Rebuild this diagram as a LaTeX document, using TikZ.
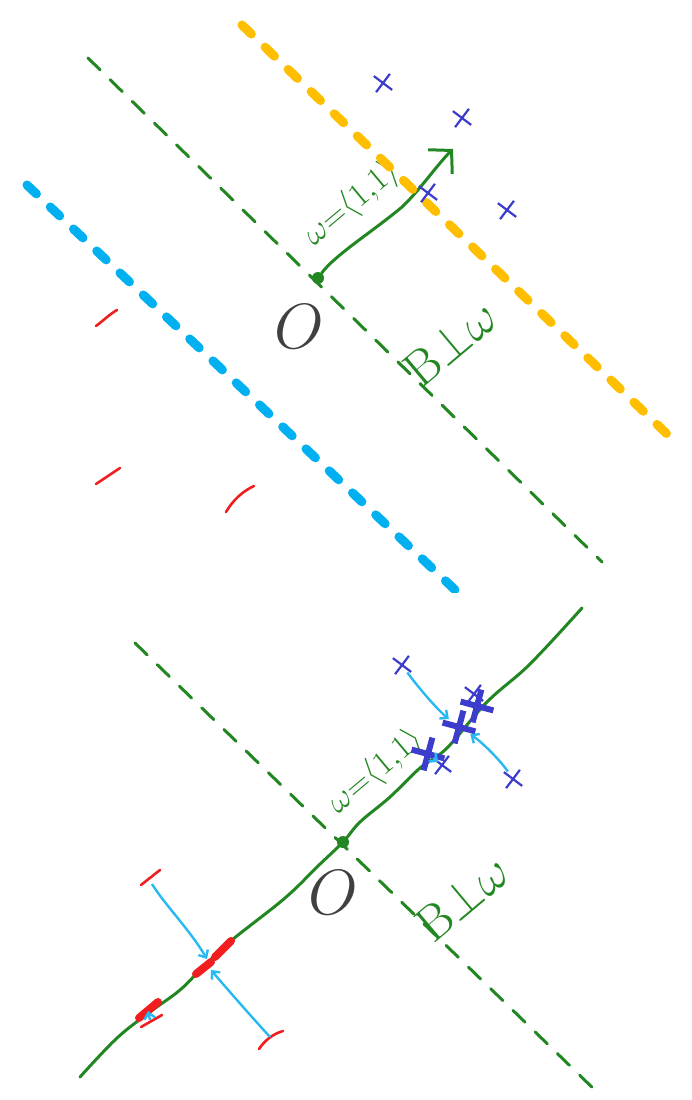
\documentclass[tikz,border=0pt]{standalone}
\usetikzlibrary{shapes.misc,arrows.meta}
\definecolor{gr}{RGB}{34,135,34}
\definecolor{og}{RGB}{255,190,0}
\definecolor{sky}{RGB}{0,176,240}
\definecolor{lsky}{RGB}{40,185,240}
\definecolor{bx}{RGB}{60,60,205}
\definecolor{rd}{RGB}{240,30,30}
\definecolor{ogray}{RGB}{64,64,64}
\tikzset{
  thickdash/.style={line width=9pt, line cap=round, dash pattern=on 13pt off 19pt},
  greendash/.style={gr, line width=3pt, line cap=round, dash pattern=on 17pt off 14pt},
  greenline/.style={gr, line width=3pt, line cap=round},
  dot/.style={circle, fill=gr, inner sep=0pt, minimum size=12pt},
  olabel/.style={ogray, font=\Huge, scale=2.57},
  wlabel/.style={gr, font=\Huge, scale=1.35, rotate=40, inner sep=0pt},
  blabel/.style={gr, font=\Huge, scale=2.0, rotate=40, inner sep=0pt},
  xthin/.style={cross out, draw=bx, line width=2.2pt, minimum size=14pt, inner sep=0pt, rotate=8},
  xthick/.style={cross out, draw=bx, line width=6pt, minimum size=18pt, inner sep=0pt, rotate=30},
  redmark/.style={rd, line width=2.6pt, line cap=round},
  redthick/.style={rd, line width=8pt, line cap=round},
  proj/.style={lsky, line width=2.4pt, -{Straight Barb[length=6pt,width=11pt]}},
}
\begin{document}
\begin{tikzpicture}[x=1pt,y=-1pt]
\useasboundingbox (0,0) rectangle (692,1100);
% ---------------- top panel ----------------
\coordinate (d1a) at (88,58);
\coordinate (d1b) at (602,562);
\draw[greendash] (d1a) -- (d1b);
\node[dot] (O1) at (318,278) {};
\coordinate (w1) at (453,149);
\draw[greenline, -{Straight Barb[length=16pt,width=34pt]}] (O1) .. controls (335,255) and (372,232) .. (402,207) .. controls (420,190) and (436,166) .. (w1);
\node[wlabel] (wl1) at (352,204) {$\omega{=}\langle 1,\!1\rangle$};
\node[olabel] (Ol1) at (299,327) {$O$};
\node[blabel] (bl1) at (450,343) {B${\perp}\omega$};
\begin{scope}
\clip (0,0) rectangle (692,592);
\coordinate (oa) at (242,25);
\coordinate (ob) at (668,435);
\draw[thickdash, og] (oa) -- (ob);
\coordinate (ba) at (27,185);
\coordinate (bb) at (470,604);
\draw[thickdash, sky] (ba) -- (bb);
\end{scope}
\node[xthin] (p1) at (383,83) {};
\node[xthin] (p2) at (462,118) {};
\node[xthin] (p3) at (428,193) {};
\node[xthin] (p4) at (507,210) {};
\coordinate (r1a) at (96,326); \coordinate (r1b) at (117,310);
\draw[redmark] (r1a) .. controls (104,320) and (110,314) .. (r1b);
\coordinate (r2a) at (96,484); \coordinate (r2b) at (120,468);
\draw[redmark] (r2a) -- (r2b);
\coordinate (r3a) at (226,512); \coordinate (r3b) at (254,486);
\draw[redmark] (r3a) .. controls (233,500) and (243,491) .. (r3b);
% ---------------- bottom panel ----------------
\coordinate (d2a) at (135,643);
\coordinate (d2b) at (600,1095);
\draw[greendash] (d2a) -- (d2b);
\coordinate (la) at (80,1077);
\coordinate (lb) at (582,608);
\draw[greenline] plot[smooth, tension=0.6] coordinates {(80,1077) (117,1038) (150,1012) (180,990) (203,967) (232,940) (285,898) (318,866) (343,842) (360,822) (390,797) (420,768) (447,748) (487,702) (530,664) (582,608)};
\node[dot] (O2) at (343,842) {};
\node[wlabel] (wl2) at (376,772) {$\omega{=}\langle 1,\!1\rangle$};
\node[olabel] (Ol2) at (333,893) {$O$};
\node[blabel] (bl2) at (462,898) {B${\perp}\omega$};
% blue points and projections
\node[xthin] (q1) at (402,665) {};
\node[xthin] (q2) at (474,694) {};
\node[xthin] (q3) at (442,765) {};
\node[xthin] (q4) at (513,779) {};
\node[xthick] (s1) at (477,706) {};
\node[xthick] (s2) at (459,727) {};
\node[xthick] (s3) at (428,754) {};
\draw[proj] (q1) .. controls (420,690) and (440,712) .. (s2);
\draw[proj] (q4) .. controls (500,760) and (482,742) .. (s2);
\draw[proj] (q3) -- (s3);
% red points and projections
\coordinate (t1a) at (141,885); \coordinate (t1b) at (160,870);
\draw[redmark] (t1a) -- (t1b);
\coordinate (t2a) at (259,1049); \coordinate (t2b) at (283,1031);
\draw[redmark] (t2a) .. controls (265,1040) and (273,1034) .. (t2b);
\coordinate (t3a) at (141,1027); \coordinate (t3b) at (162,1015);
\draw[redmark] (t3a) -- (t3b);
\coordinate (u1a) at (196,974); \coordinate (u1b) at (211,962);
\draw[redthick] (u1a) -- (u1b);
\coordinate (u2a) at (215,957); \coordinate (u2b) at (231,941);
\draw[redthick] (u2a) -- (u2b);
\coordinate (u3a) at (139,1018); \coordinate (u3b) at (158,1002);
\draw[redthick] (u3a) -- (u3b);
\coordinate (m1) at (152,884);
\coordinate (m2) at (270,1037);
\coordinate (m3) at (150,1020);
\coordinate (h1) at (207,959);
\coordinate (h2) at (211,970);
\coordinate (h3) at (148,1011);
\draw[proj] (m1) .. controls (165,905) and (190,930) .. (h1);
\draw[proj] (m2) .. controls (250,1015) and (228,990) .. (h2);
\draw[proj] (m3) -- (h3);
\end{tikzpicture}
\end{document}
